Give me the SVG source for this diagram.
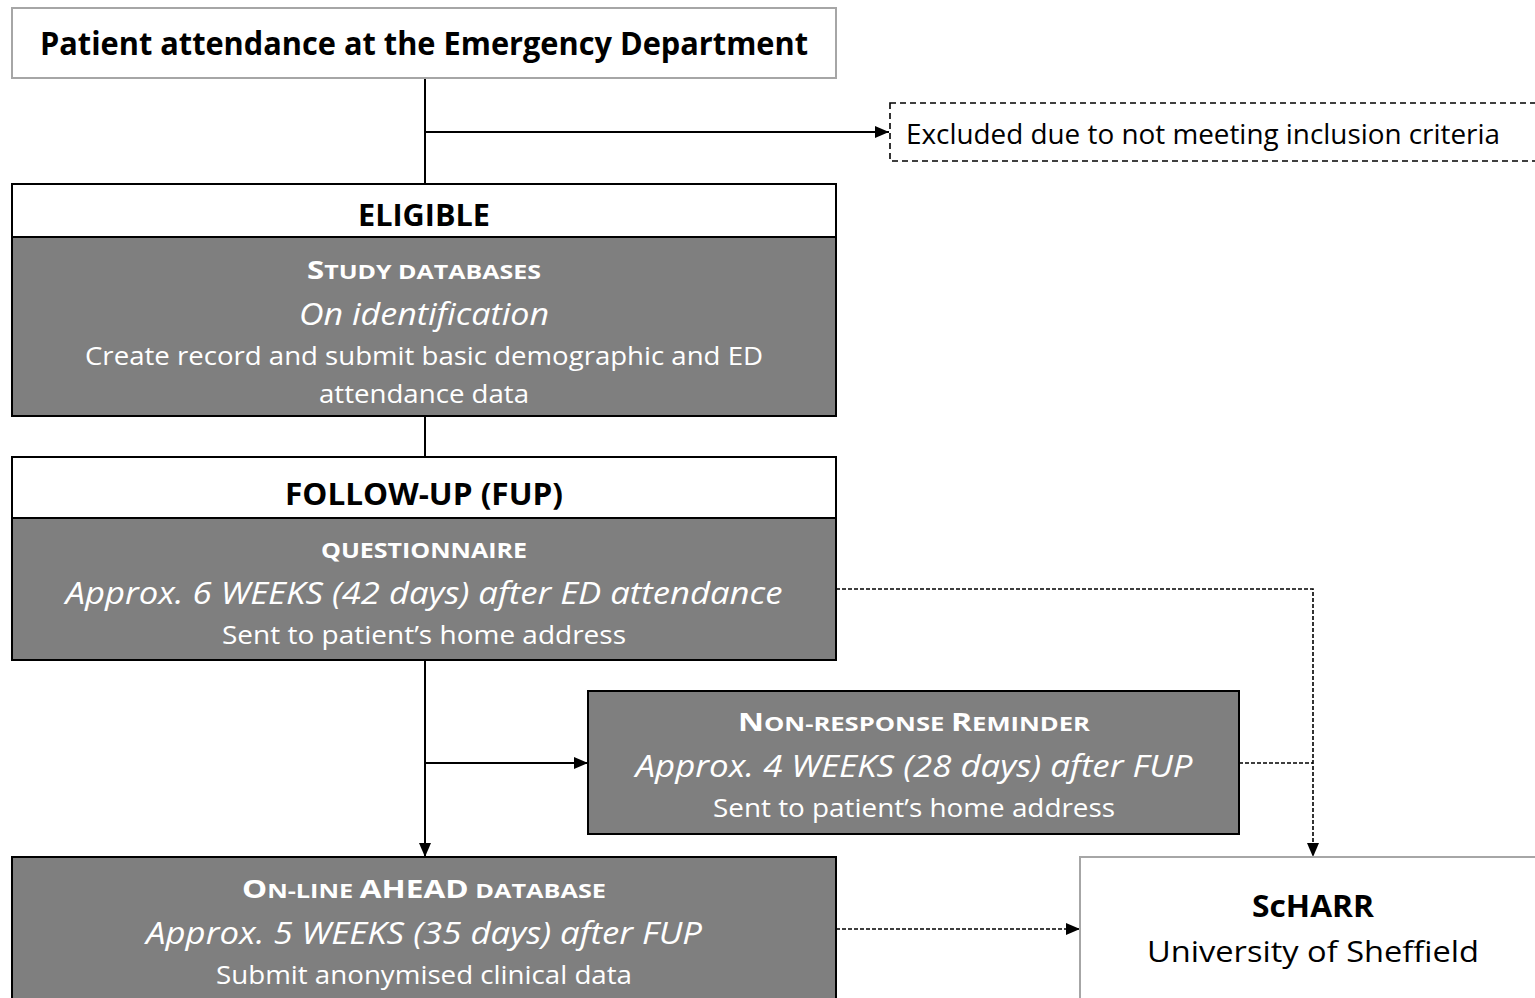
<svg xmlns="http://www.w3.org/2000/svg" width="1535" height="998" viewBox="0 0 1535 998">
<defs>
<style>
text{font-family:"Open Sans","Noto Sans","Liberation Sans",sans-serif;text-anchor:middle}
.b{font-weight:bold}
.i{font-style:italic}
.w{fill:#ffffff}
.k{fill:#000000}
.grey{fill:#7f7f7f;stroke:#000;stroke-width:2}
.white{fill:#ffffff;stroke:#000;stroke-width:2}
.light{fill:#ffffff;stroke:#a6a6a6;stroke-width:2}
.ln{fill:none;stroke:#000;stroke-width:2}
.dl{fill:none;stroke:#000;stroke-width:1.6;stroke-dasharray:4 2}
</style>
<marker id="ah" viewBox="0 0 14 12" refX="14" refY="6" markerWidth="14" markerHeight="12" markerUnits="userSpaceOnUse" orient="auto">
<path d="M0,0 L14,6 L0,12 Z" fill="#000"/>
</marker>
</defs>

<g id="connectors">
<path class="ln" d="M425,78 V184"/>
<path class="ln" d="M425,132 H889" marker-end="url(#ah)"/>
<path class="ln" d="M425,416 V457"/>
<path class="ln" d="M425,660 V857" marker-end="url(#ah)"/>
<path class="ln" d="M425,763 H588" marker-end="url(#ah)"/>
<path class="dl" d="M836,589 H1313 V857" marker-end="url(#ah)"/>
<path class="dl" d="M1239,763 H1313"/>
<path class="dl" d="M836,929 H1080" marker-end="url(#ah)"/>
</g>

<g id="attendance">
<rect class="light" x="12" y="8" width="824" height="70"/>
<text class="b k" x="424" y="55" font-size="32" textLength="768" lengthAdjust="spacingAndGlyphs">Patient attendance at the Emergency Department</text>
</g>

<g id="excluded">
<rect x="890" y="103" width="660" height="58" fill="#fff" stroke="#000" stroke-width="1.6" stroke-dasharray="6 4"/>
<text class="k" x="1203" y="144" font-size="27" textLength="594" lengthAdjust="spacingAndGlyphs">Excluded due to not meeting inclusion criteria</text>
</g>

<g id="eligible">
<rect class="white" x="12" y="184" width="824" height="53"/>
<rect class="grey" x="12" y="237" width="824" height="179"/>
<text class="b k" x="424" y="226" font-size="31" textLength="132" lengthAdjust="spacingAndGlyphs">ELIGIBLE</text>
<text class="b w" x="424" y="279" font-size="20" textLength="234" lengthAdjust="spacingAndGlyphs"><tspan font-size="25">S</tspan>TUDY DATABASES</text>
<text class="i w" x="424" y="325" font-size="31" textLength="250" lengthAdjust="spacingAndGlyphs">On identification</text>
<text class="w" x="424" y="365" font-size="26" textLength="678" lengthAdjust="spacingAndGlyphs">Create record and submit basic demographic and ED</text>
<text class="w" x="424" y="403" font-size="26" textLength="210" lengthAdjust="spacingAndGlyphs">attendance data</text>
</g>

<g id="followup">
<rect class="white" x="12" y="457" width="824" height="61"/>
<rect class="grey" x="12" y="518" width="824" height="142"/>
<text class="b k" x="424" y="505" font-size="31" textLength="278" lengthAdjust="spacingAndGlyphs">FOLLOW-UP (FUP)</text>
<text class="b w" x="424" y="558" font-size="21" textLength="206" lengthAdjust="spacingAndGlyphs">QUESTIONNAIRE</text>
<text class="i w" x="424" y="604" font-size="31" textLength="717" lengthAdjust="spacingAndGlyphs">Approx. 6 WEEKS (42 days) after ED attendance</text>
<text class="w" x="424" y="644" font-size="26" textLength="404" lengthAdjust="spacingAndGlyphs">Sent to patient’s home address</text>
</g>

<g id="reminder">
<rect class="grey" x="588" y="691" width="651" height="143"/>
<text class="b w" x="914" y="731" font-size="20" textLength="352" lengthAdjust="spacingAndGlyphs"><tspan font-size="25">N</tspan>ON-RESPONSE <tspan font-size="25">R</tspan>EMINDER</text>
<text class="i w" x="914" y="777" font-size="31" textLength="557" lengthAdjust="spacingAndGlyphs">Approx. 4 WEEKS (28 days) after FUP</text>
<text class="w" x="914" y="817" font-size="26" textLength="402" lengthAdjust="spacingAndGlyphs">Sent to patient’s home address</text>
</g>

<g id="ahead">
<rect class="grey" x="12" y="857" width="824" height="150"/>
<text class="b w" x="424" y="898" font-size="20" textLength="364" lengthAdjust="spacingAndGlyphs"><tspan font-size="25">O</tspan>N-LINE <tspan font-size="25">AHEAD</tspan> DATABASE</text>
<text class="i w" x="424" y="944" font-size="31" textLength="556" lengthAdjust="spacingAndGlyphs">Approx. 5 WEEKS (35 days) after FUP</text>
<text class="w" x="424" y="984" font-size="26" textLength="416" lengthAdjust="spacingAndGlyphs">Submit anonymised clinical data</text>
</g>

<g id="scharr">
<rect class="light" x="1080" y="857" width="470" height="150"/>
<text class="b k" x="1313" y="917" font-size="31" textLength="122" lengthAdjust="spacingAndGlyphs">ScHARR</text>
<text class="k" x="1313" y="962" font-size="30" textLength="332" lengthAdjust="spacingAndGlyphs">University of Sheffield</text>
</g>
</svg>
